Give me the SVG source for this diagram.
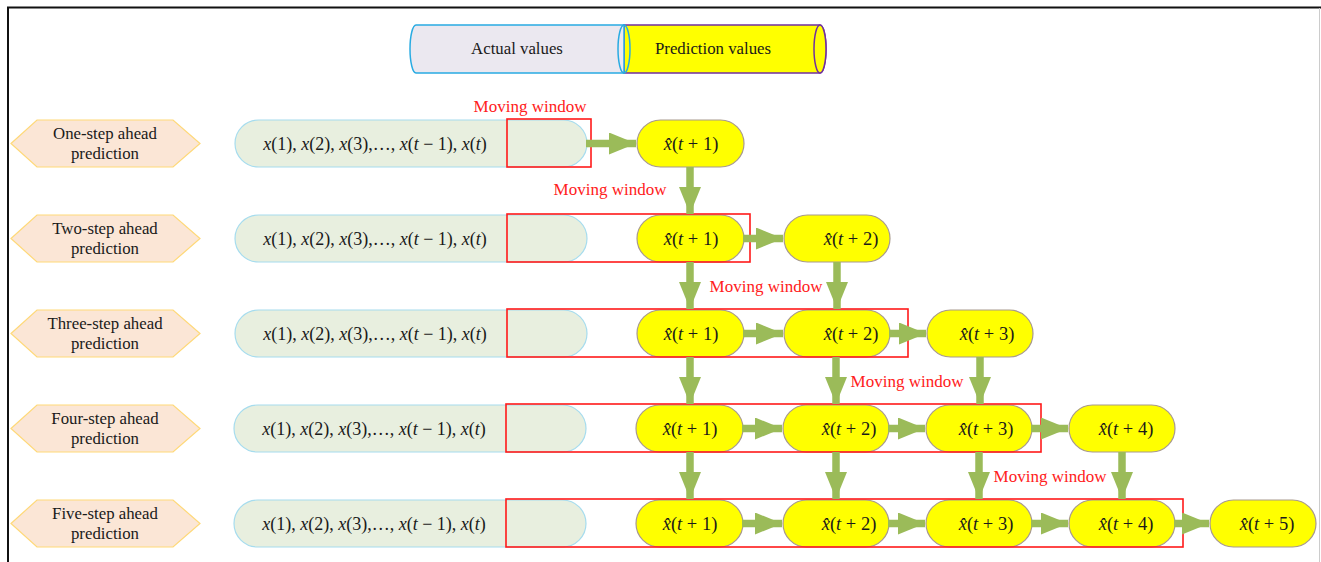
<svg xmlns="http://www.w3.org/2000/svg" width="1321" height="562" viewBox="0 0 1321 562">
  <style>
    text { font-family: "Liberation Serif", "Times New Roman", serif; fill: #1a1a1a; }
    .hex { fill: #fbe6d6; stroke: #ffd978; stroke-width: 1.2; }
    .lbl { font-size: 16.8px; text-anchor: middle; }
    .seqbox { fill: #e8efdf; stroke: #a6dcee; stroke-width: 1.2; }
    .seq { font-size: 18px; text-anchor: middle; }
    .pred { fill: #ffff00; stroke: #a89a8e; stroke-width: 1.2; }
    .ptxt { font-size: 18.5px; text-anchor: middle; }
    .win { fill: none; stroke: #ff1a1a; stroke-width: 1.6; }
    .wlbl { font-size: 17px; fill: #ff2020; text-anchor: middle; }
    .arr { stroke: #9bbb59; stroke-width: 7.5; fill: none; marker-end: url(#head); }
    .it { font-style: italic; }
  </style>
  <defs>
    <marker id="head" markerUnits="userSpaceOnUse" markerWidth="27" markerHeight="22" refX="27" refY="11" orient="auto">
      <path d="M0,0 L27,11 L0,22 Z" fill="#9bbb59"/>
    </marker>
  </defs>

  <rect width="1321" height="562" fill="#ffffff"/>
  <!-- frame -->
  <path d="M8,562 L8,7.5 L1321,7.5" fill="none" stroke="#111" stroke-width="2"/>
  <line x1="1319.5" y1="8" x2="1319.5" y2="562" stroke="#cccccc" stroke-width="1"/>

  <!-- legend cylinders -->
  <g id="legend">
    <path d="M624,25 L820,25 A6,24 0 0 1 820,73 L624,73 Z" fill="#ffff00" stroke="#7030a0" stroke-width="1.5"/>
    <ellipse cx="820" cy="49" rx="6" ry="24" fill="#ffff00" stroke="#7030a0" stroke-width="1.5"/>
    <path d="M416,25 L624,25 L624,73 L416,73 A6,24 0 0 1 416,25 Z" fill="#ebe8f0" stroke="#29abe2" stroke-width="1.5"/>
    <ellipse cx="624" cy="49" rx="6" ry="24" fill="none" stroke="#29abe2" stroke-width="1.5"/>
    <text class="lbl" x="517" y="54">Actual values</text>
    <text class="lbl" x="713" y="54">Prediction values</text>
  </g>

  <!-- step labels -->
  <g id="step1"><polygon class="hex" points="11,143.5 37,120 173,120 200,143.5 173,167 37,167"/>
    <text class="lbl" x="105" y="139">One-step ahead</text><text class="lbl" x="105" y="159">prediction</text></g>
  <g id="step2"><polygon class="hex" points="11,238.5 37,215 173,215 200,238.5 173,262 37,262"/>
    <text class="lbl" x="105" y="234">Two-step ahead</text><text class="lbl" x="105" y="254">prediction</text></g>
  <g id="step3"><polygon class="hex" points="11,333.5 37,310 173,310 200,333.5 173,357 37,357"/>
    <text class="lbl" x="105" y="329">Three-step ahead</text><text class="lbl" x="105" y="349">prediction</text></g>
  <g id="step4"><polygon class="hex" points="11,428.5 37,405 173,405 200,428.5 173,452 37,452"/>
    <text class="lbl" x="105" y="424">Four-step ahead</text><text class="lbl" x="105" y="444">prediction</text></g>
  <g id="step5"><polygon class="hex" points="11,523.5 37,500 173,500 200,523.5 173,547 37,547"/>
    <text class="lbl" x="105" y="519">Five-step ahead</text><text class="lbl" x="105" y="539">prediction</text></g>

  <!-- observed series -->
  <g id="series1"><rect class="seqbox" x="235" y="120" width="352" height="47" rx="23.5"/>
    <text class="seq" x="375" y="150"><tspan class="it">x</tspan>(1), <tspan class="it">x</tspan>(2), <tspan class="it">x</tspan>(3),…, <tspan class="it">x</tspan>(<tspan class="it">t</tspan> − 1), <tspan class="it">x</tspan>(<tspan class="it">t</tspan>)</text></g>
  <g id="series2"><rect class="seqbox" x="235" y="215" width="352" height="47" rx="23.5"/>
    <text class="seq" x="375" y="245"><tspan class="it">x</tspan>(1), <tspan class="it">x</tspan>(2), <tspan class="it">x</tspan>(3),…, <tspan class="it">x</tspan>(<tspan class="it">t</tspan> − 1), <tspan class="it">x</tspan>(<tspan class="it">t</tspan>)</text></g>
  <g id="series3"><rect class="seqbox" x="235" y="310" width="352" height="47" rx="23.5"/>
    <text class="seq" x="375" y="340"><tspan class="it">x</tspan>(1), <tspan class="it">x</tspan>(2), <tspan class="it">x</tspan>(3),…, <tspan class="it">x</tspan>(<tspan class="it">t</tspan> − 1), <tspan class="it">x</tspan>(<tspan class="it">t</tspan>)</text></g>
  <g id="series4"><rect class="seqbox" x="234" y="405" width="352" height="47" rx="23.5"/>
    <text class="seq" x="374" y="435"><tspan class="it">x</tspan>(1), <tspan class="it">x</tspan>(2), <tspan class="it">x</tspan>(3),…, <tspan class="it">x</tspan>(<tspan class="it">t</tspan> − 1), <tspan class="it">x</tspan>(<tspan class="it">t</tspan>)</text></g>
  <g id="series5"><rect class="seqbox" x="234" y="500" width="352" height="47" rx="23.5"/>
    <text class="seq" x="374" y="530"><tspan class="it">x</tspan>(1), <tspan class="it">x</tspan>(2), <tspan class="it">x</tspan>(3),…, <tspan class="it">x</tspan>(<tspan class="it">t</tspan> − 1), <tspan class="it">x</tspan>(<tspan class="it">t</tspan>)</text></g>

  <!-- predicted values -->
  <g id="r1p1"><rect class="pred" x="637" y="120" width="107" height="47" rx="23.5"/><text class="ptxt" x="691" y="150"><tspan class="it">x̂</tspan>(<tspan class="it">t</tspan> + 1)</text></g>

  <g id="r2p1"><rect class="pred" x="637" y="215" width="107" height="47" rx="23.5"/><text class="ptxt" x="691" y="245"><tspan class="it">x̂</tspan>(<tspan class="it">t</tspan> + 1)</text></g>
  <g id="r2p2"><rect class="pred" x="784" y="215" width="106" height="47" rx="23.5"/><text class="ptxt" x="851" y="245"><tspan class="it">x̂</tspan>(<tspan class="it">t</tspan> + 2)</text></g>

  <g id="r3p1"><rect class="pred" x="637" y="310" width="107" height="47" rx="23.5"/><text class="ptxt" x="691" y="340"><tspan class="it">x̂</tspan>(<tspan class="it">t</tspan> + 1)</text></g>
  <g id="r3p2"><rect class="pred" x="784" y="310" width="106" height="47" rx="23.5"/><text class="ptxt" x="851" y="340"><tspan class="it">x̂</tspan>(<tspan class="it">t</tspan> + 2)</text></g>
  <g id="r3p3"><rect class="pred" x="927" y="310" width="106" height="47" rx="23.5"/><text class="ptxt" x="987" y="340"><tspan class="it">x̂</tspan>(<tspan class="it">t</tspan> + 3)</text></g>

  <g id="r4p1"><rect class="pred" x="636" y="405" width="107" height="47" rx="23.5"/><text class="ptxt" x="690" y="435"><tspan class="it">x̂</tspan>(<tspan class="it">t</tspan> + 1)</text></g>
  <g id="r4p2"><rect class="pred" x="783" y="405" width="106" height="47" rx="23.5"/><text class="ptxt" x="849" y="435"><tspan class="it">x̂</tspan>(<tspan class="it">t</tspan> + 2)</text></g>
  <g id="r4p3"><rect class="pred" x="926" y="405" width="106" height="47" rx="23.5"/><text class="ptxt" x="986" y="435"><tspan class="it">x̂</tspan>(<tspan class="it">t</tspan> + 3)</text></g>
  <g id="r4p4"><rect class="pred" x="1069" y="405" width="106" height="47" rx="23.5"/><text class="ptxt" x="1126" y="435"><tspan class="it">x̂</tspan>(<tspan class="it">t</tspan> + 4)</text></g>

  <g id="r5p1"><rect class="pred" x="636" y="500" width="107" height="47" rx="23.5"/><text class="ptxt" x="690" y="530"><tspan class="it">x̂</tspan>(<tspan class="it">t</tspan> + 1)</text></g>
  <g id="r5p2"><rect class="pred" x="783" y="500" width="106" height="47" rx="23.5"/><text class="ptxt" x="849" y="530"><tspan class="it">x̂</tspan>(<tspan class="it">t</tspan> + 2)</text></g>
  <g id="r5p3"><rect class="pred" x="926" y="500" width="106" height="47" rx="23.5"/><text class="ptxt" x="986" y="530"><tspan class="it">x̂</tspan>(<tspan class="it">t</tspan> + 3)</text></g>
  <g id="r5p4"><rect class="pred" x="1069" y="500" width="106" height="47" rx="23.5"/><text class="ptxt" x="1126" y="530"><tspan class="it">x̂</tspan>(<tspan class="it">t</tspan> + 4)</text></g>
  <g id="r5p5"><rect class="pred" x="1210" y="500" width="106" height="47" rx="23.5"/><text class="ptxt" x="1267" y="530"><tspan class="it">x̂</tspan>(<tspan class="it">t</tspan> + 5)</text></g>

  <!-- moving windows -->
  <g id="windows">
    <rect class="win" x="507" y="119" width="84" height="48"/>
    <rect class="win" x="507" y="214" width="243" height="48"/>
    <rect class="win" x="507" y="309" width="401" height="48"/>
    <rect class="win" x="506" y="404" width="535" height="48"/>
    <rect class="win" x="506" y="499" width="677" height="48"/>
    <text class="wlbl" x="530" y="112">Moving window</text>
    <text class="wlbl" x="610" y="195">Moving window</text>
    <text class="wlbl" x="766" y="292">Moving window</text>
    <text class="wlbl" x="907" y="387">Moving window</text>
    <text class="wlbl" x="1050" y="482">Moving window</text>
  </g>

  <!-- connectors -->
  <g id="connectors">
    <line class="arr" x1="586" y1="143.5" x2="636" y2="143.5"/>
    <line class="arr" x1="690" y1="167" x2="690" y2="214"/>

    <line class="arr" x1="743" y1="238.5" x2="783" y2="238.5"/>
    <line class="arr" x1="690" y1="262" x2="690" y2="309"/>
    <line class="arr" x1="837" y1="262" x2="837" y2="309"/>

    <line class="arr" x1="743" y1="333.5" x2="783" y2="333.5"/>
    <line class="arr" x1="889" y1="333.5" x2="926" y2="333.5"/>
    <line class="arr" x1="690" y1="357" x2="690" y2="404"/>
    <line class="arr" x1="836" y1="357" x2="836" y2="404"/>
    <line class="arr" x1="980" y1="357" x2="980" y2="404"/>

    <line class="arr" x1="742" y1="428.5" x2="782" y2="428.5"/>
    <line class="arr" x1="888" y1="428.5" x2="925" y2="428.5"/>
    <line class="arr" x1="1031" y1="428.5" x2="1068" y2="428.5"/>
    <line class="arr" x1="690" y1="452" x2="690" y2="499"/>
    <line class="arr" x1="836" y1="452" x2="836" y2="499"/>
    <line class="arr" x1="979" y1="452" x2="979" y2="499"/>
    <line class="arr" x1="1122" y1="452" x2="1122" y2="499"/>

    <line class="arr" x1="742" y1="523.5" x2="782" y2="523.5"/>
    <line class="arr" x1="888" y1="523.5" x2="925" y2="523.5"/>
    <line class="arr" x1="1031" y1="523.5" x2="1068" y2="523.5"/>
    <line class="arr" x1="1174" y1="523.5" x2="1209" y2="523.5"/>
  </g>
</svg>
